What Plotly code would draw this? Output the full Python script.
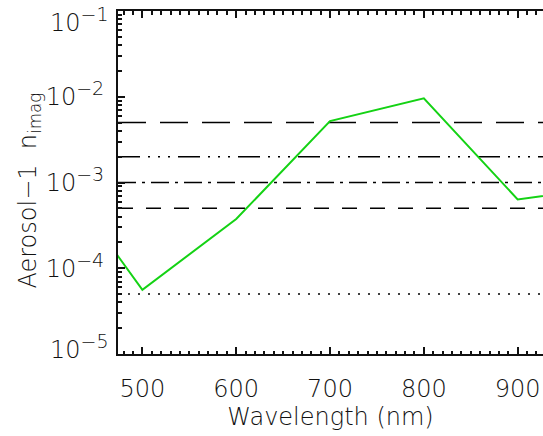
import plotly.graph_objects as go

# ---- data ----
wavelength = [450, 500, 600, 700, 800, 900, 1000]
n_imag = [3.2e-4, 5.6e-5, 3.75e-4, 5.2e-3, 9.6e-3, 6.35e-4, 9.0e-4]

ref_levels = [5e-3, 2e-3, 1e-3, 5e-4, 5e-5]
ref_dashes = ["28px,14px",
              "22px,8px,2px,8px,2px,8px,2px,8px",
              "18px,6px,3px,6px",
              "15px,13px",
              "2px,8px"]

x_ticks = [500, 600, 700, 800, 900]
y_ticks = [1e-5, 1e-4, 1e-3, 1e-2, 1e-1]
y_exponents = ["−5", "−4", "−3", "−2", "−1"]

XRANGE = [474, 927]
YRANGE = [-5.0001, -0.9999]

FONT = "DejaVu Sans"
AX = "#111111"
TXT = "#111111"


def power_label(exp):
    return "10<sup><span style='font-size:19px'>%s</span></sup>" % exp


# inner labels as tick text; the two edge labels are nudged inside the frame
y_ticktext = [power_label(e) if 0 < i < len(y_ticks) - 1 else ""
              for i, e in enumerate(y_exponents)]

fig = go.Figure()

for lev, dash in zip(ref_levels, ref_dashes):
    fig.add_trace(go.Scatter(x=[XRANGE[0], 1000], y=[lev, lev], mode="lines",
                             line=dict(color="black", width=1.6, dash=dash),
                             showlegend=False, hoverinfo="skip"))

fig.add_trace(go.Scatter(x=wavelength, y=n_imag, mode="lines",
                         line=dict(color="rgb(20,210,20)", width=2),
                         showlegend=False))

minor_y = [k * 10 ** e for e in range(-5, -1) for k in range(2, 10)]

fig.update_layout(
    width=543, height=436,
    margin=dict(l=118, r=0, t=11, b=82, pad=0),
    paper_bgcolor="white", plot_bgcolor="white",
    font=dict(family=FONT, size=24, color=TXT, weight=200),
    xaxis=dict(range=XRANGE, tickvals=x_ticks, ticks="inside", ticklen=7,
               tickwidth=1.5, tickcolor=AX, showline=True, linecolor=AX,
               linewidth=2, mirror="ticks", showgrid=False, zeroline=False,
               ticklabelstandoff=12, automargin=False, ticklabeloverflow="allow",
               minor=dict(dtick=10, ticks="inside", ticklen=3.5,
                          tickcolor=AX, tickwidth=1.5, showgrid=False),
               title=dict(text="Wavelength (nm)", standoff=2,
                          font=dict(family=FONT, size=24, weight=200))),
    yaxis=dict(type="log", range=YRANGE, tickvals=y_ticks, ticktext=y_ticktext,
               ticks="inside", ticklen=7, tickwidth=1.5, tickcolor=AX,
               showline=True, linecolor=AX, linewidth=2, mirror=False,
               showgrid=False, zeroline=False, ticklabelstandoff=7,
               automargin=False, ticklabeloverflow="allow",
               minor=dict(tickvals=minor_y, ticks="inside", ticklen=3.5,
                          tickcolor=AX, tickwidth=1.5, showgrid=False)),
)

# y-axis title
fig.add_annotation(text="Aerosol−1  n<sub>imag</sub>", xref="paper", yref="paper",
                   x=0, y=0.5, xanchor="center", yanchor="middle", textangle=-90,
                   xshift=-89, yshift=-8, showarrow=False,
                   font=dict(family=FONT, size=24, color=TXT, weight=200))

# edge tick labels (top and bottom decades), shifted inside like the original
fig.add_annotation(text=power_label(y_exponents[-1]), xref="paper", yref="paper",
                   x=0, y=1, xanchor="right", yanchor="middle",
                   xshift=-7, yshift=-9, showarrow=False,
                   font=dict(family=FONT, size=24, color=TXT, weight=200))
fig.add_annotation(text=power_label(y_exponents[0]), xref="paper", yref="paper",
                   x=0, y=0, xanchor="right", yanchor="middle",
                   xshift=-7, yshift=7, showarrow=False,
                   font=dict(family=FONT, size=24, color=TXT, weight=200))

fig.write_html("out.html", config={"displayModeBar": False},
               post_script="document.body.style.margin='0';"
                           "document.body.style.overflow='hidden';")
